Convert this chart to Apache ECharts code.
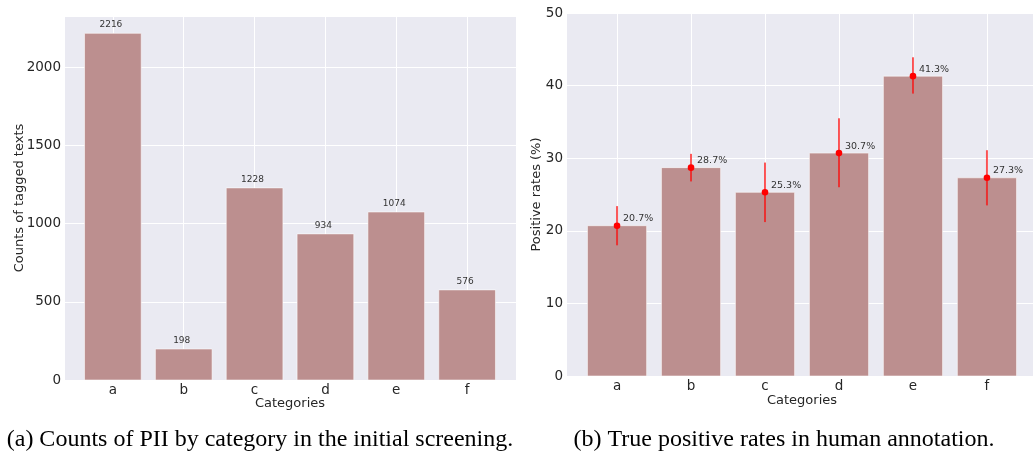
<!DOCTYPE html>
<html><head><meta charset="utf-8">
<script src="https://cdn.jsdelivr.net/npm/echarts@6/dist/echarts.min.js"></script>
<style>html,body{margin:0;padding:0;background:#fff}#c{width:1033px;height:452px}</style>
</head><body><div id="c"></div>
<script>
const categories = ['a','b','c','d','e','f'];
const counts = [2216, 198, 1228, 934, 1074, 576];
const rates = [20.7, 28.7, 25.3, 30.7, 41.3, 27.3];
const rateLow = [18.0, 26.8, 21.2, 26.0, 38.9, 23.5];
const rateHigh = [23.4, 30.6, 29.4, 35.5, 43.9, 31.1];
const countTicks = [0, 500, 1000, 1500, 2000];
const rateTicks = [0, 10, 20, 30, 40, 50];

const FONT = 'DejaVu Sans';
const TXT = '#262626';
const BAR = '#BC8F8F';

const chart = echarts.init(document.getElementById('c'));

function xAxisFor(gi, gap){
  return {
    type:'value', gridIndex:gi, min:-0.69, max:5.69, splitNumber:6,
    axisLine:{show:false}, axisTick:{show:false},
    splitLine:{show:true, lineStyle:{color:'#ffffff', width:1}},
    axisLabel:{color:TXT, fontFamily:FONT, fontSize:13.5, margin:3,
      formatter:v => (Math.abs(v-Math.round(v))<1e-6 && categories[Math.round(v)]!==undefined) ? categories[Math.round(v)] : ''},
    name:'Categories', nameLocation:'middle', nameGap:gap, nameMoveOverlap:false,
    nameTextStyle:{color:TXT, fontFamily:FONT, fontSize:13}
  };
}

function barRender(params, api){
  const x = api.value(0), y = api.value(1);
  const p0 = api.coord([x-0.4, y]);
  const p1 = api.coord([x+0.4, 0]);
  return {type:'group', children:[
    {type:'rect', shape:{x:p0[0], y:p0[1], width:p1[0]-p0[0], height:p1[1]-p0[1]},
     style:{fill:BAR, stroke:'rgba(255,255,255,0.55)', lineWidth:1}},
    {type:'text', x:(p0[0]+p1[0])/2-2, y:p0[1]-4,
     style:{text:String(counts[params.dataIndex]), textAlign:'center', textVerticalAlign:'bottom',
       font:'9px "DejaVu Sans"', fill:'#333'}}
  ]};
}
function rateBarRender(params, api){
  const x = api.value(0), y = api.value(1);
  const p0 = api.coord([x-0.4, y]);
  const p1 = api.coord([x+0.4, 0]);
  return {type:'rect', shape:{x:p0[0], y:p0[1], width:p1[0]-p0[0], height:p1[1]-p0[1]},
     style:{fill:BAR, stroke:'rgba(255,255,255,0.55)', lineWidth:1}};
}
function errRender(params, api){
  const i = api.value(0);
  const pv = api.coord([i, api.value(1)]);
  const pl = api.coord([i, api.value(2)]);
  const ph = api.coord([i, api.value(3)]);
  return {type:'group', children:[
    {type:'line', shape:{x1:pl[0], y1:pl[1], x2:ph[0], y2:ph[1]}, style:{stroke:'rgba(255,0,0,0.65)', lineWidth:2}},
    {type:'circle', shape:{cx:pv[0], cy:pv[1], r:3.3}, style:{fill:'#ff0000'}},
    {type:'text', x:pv[0]+6, y:pv[1]-2,
     style:{text:rates[params.dataIndex].toFixed(1)+'%', textAlign:'left', textVerticalAlign:'bottom',
       font:'9.5px "DejaVu Sans"', fill:'#333'}}
  ]};
}

chart.setOption({
  animation:false,
  title:[
    {text:'(a) Counts of PII by category in the initial screening.', left:255, top:423, textAlign:'center',
     textStyle:{fontFamily:'Liberation Serif', fontSize:24, fontWeight:'normal', color:'#000'}},
    {text:'(b) True positive rates in human annotation.', left:779, top:423, textAlign:'center',
     textStyle:{fontFamily:'Liberation Serif', fontSize:24, fontWeight:'normal', color:'#000'}}
  ],
  grid:[
    {left:64, top:16, width:452, height:364, show:true, backgroundColor:'#EAEAF2', borderWidth:0, outerBoundsMode:'none', containLabel:false},
    {left:566, top:13, width:472, height:363, show:true, backgroundColor:'#EAEAF2', borderWidth:0, outerBoundsMode:'none', containLabel:false}
  ],
  xAxis:[xAxisFor(0, 17), xAxisFor(1, 18)],
  yAxis:[
    {type:'value', gridIndex:0, min:0, max:2326.8, interval:500,
     axisLine:{show:false}, axisTick:{show:false},
     splitLine:{show:true, lineStyle:{color:'#ffffff', width:1}},
     axisLabel:{color:TXT, fontFamily:FONT, fontSize:13.5, margin:3, showMaxLabel:false,
       formatter:v => countTicks.indexOf(v)>=0 ? String(v) : ''},
     name:'Counts of tagged texts', nameLocation:'middle', nameGap:38, nameMoveOverlap:false,
     nameTextStyle:{color:TXT, fontFamily:FONT, fontSize:13}},
    {type:'value', gridIndex:1, min:0, max:50, interval:10,
     axisLine:{show:false}, axisTick:{show:false},
     splitLine:{show:true, lineStyle:{color:'#ffffff', width:1}},
     axisLabel:{color:TXT, fontFamily:FONT, fontSize:13.5, margin:3,
       formatter:v => rateTicks.indexOf(v)>=0 ? String(v) : ''},
     name:'Positive rates (%)', nameLocation:'middle', nameGap:23, nameMoveOverlap:false,
     nameTextStyle:{color:TXT, fontFamily:FONT, fontSize:13}}
  ],
  series:[
    {type:'custom', xAxisIndex:0, yAxisIndex:0, renderItem:barRender,
     data:categories.map((c,i)=>[i, counts[i]]), encode:{x:0, y:1}},
    {type:'custom', xAxisIndex:1, yAxisIndex:1, renderItem:rateBarRender,
     data:categories.map((c,i)=>[i, rates[i]]), encode:{x:0, y:1}},
    {type:'custom', xAxisIndex:1, yAxisIndex:1, renderItem:errRender, z:5,
     data:categories.map((c,i)=>[i, rates[i], rateLow[i], rateHigh[i]]), encode:{x:0, y:[1,2,3]}}
  ]
});
</script></body></html>
